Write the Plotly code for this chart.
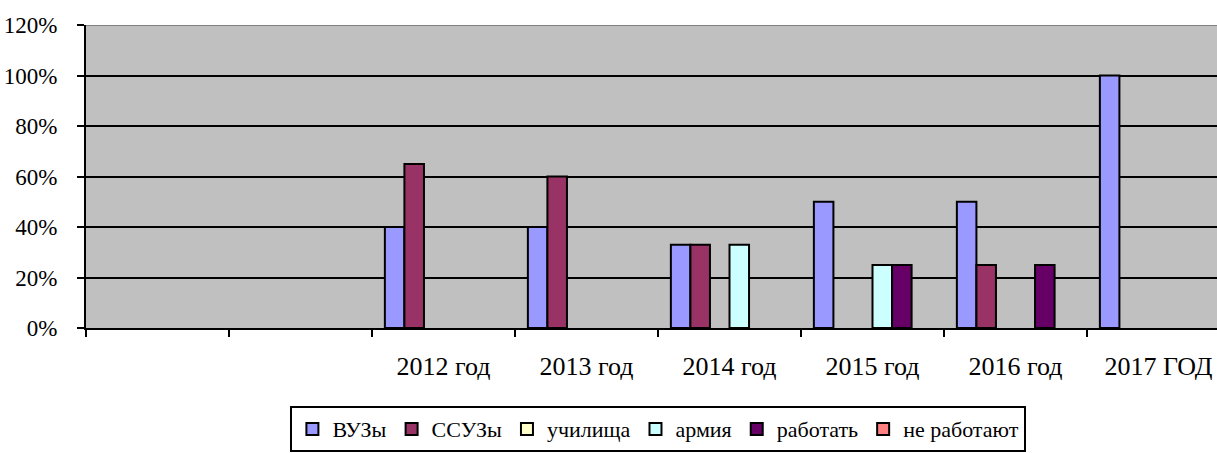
import plotly.graph_objects as go

categories = [" ", "  ", "2012 год", "2013 год", "2014 год", "2015 год", "2016 год", "2017 ГОД"]
vuzy = [None, None, 40, 40, 33, 50, 50, 100]
ssuzy = [None, None, 65, 60, 33, None, 25, None]
uchilischa = [None, None, None, None, None, None, None, None]
armiya = [None, None, None, None, 33, 25, None, None]
rabotat = [None, None, None, None, None, 25, 25, None]
ne_rabotayut = [None, None, None, None, None, None, None, None]
y_ticks = [0, 20, 40, 60, 80, 100, 120]
y_tick_labels = ["0%", "20%", "40%", "60%", "80%", "100%", "120%"]

series = [
    ("ВУЗы", vuzy, "#9999FF"),
    ("ССУЗы", ssuzy, "#993366"),
    ("училища", uchilischa, "#FFFFCC"),
    ("армия", armiya, "#CCFFFF"),
    ("работать", rabotat, "#660066"),
    ("не работают", ne_rabotayut, "#FF8080"),
]

FONT = "Liberation Serif, Times New Roman, serif"

fig = go.Figure()
for name, vals, color in series:
    fig.add_trace(go.Bar(
        name=name, x=categories, y=vals,
        marker=dict(color=color, line=dict(color="black", width=2)),
    ))

W, H = 1217, 453
ml, mt, mb = 86, 25, 125
plot_w = W - ml
cat_px = 143
xr = [-0.5, -0.5 + plot_w / cat_px]

fig.update_layout(
    width=W, height=H,
    margin=dict(l=ml, r=0, t=mt, b=mb, autoexpand=False),
    paper_bgcolor="white",
    plot_bgcolor="#C0C0C0",
    barmode="group",
    bargap=0.18,
    bargroupgap=0,
    font=dict(family=FONT, size=22, color="black"),
    showlegend=True,
    legend=dict(
        orientation="h", x=0.541, xref="container", xanchor="center",
        y=0.002, yref="container", yanchor="bottom",
        bordercolor="black", borderwidth=2, bgcolor="white",
        font=dict(family=FONT, size=22, color="black"),
        itemwidth=30, traceorder="normal",
    ),
    xaxis=dict(
        type="category", range=xr, tickson="boundaries",
        showline=True, linecolor="black", linewidth=2,
        ticks="outside", ticklen=7, tickwidth=2, tickcolor="black",
        showgrid=False, automargin=False, ticklabelstandoff=14,
        tickfont=dict(family=FONT, size=26, color="black"),
    ),
    yaxis=dict(
        range=[0, 120], tickmode="array", tickvals=y_ticks, ticktext=y_tick_labels,
        showline=True, linecolor="black", linewidth=2,
        ticks="outside", ticklen=7, tickwidth=2, tickcolor="black",
        showgrid=True, gridcolor="black", gridwidth=2,
        zeroline=False, automargin=False, ticklabelstandoff=15,
        tickfont=dict(family=FONT, size=23, color="black"),
    ),
    shapes=[dict(type="line", xref="paper", yref="y", x0=0, x1=1, y0=120, y1=120,
                 line=dict(color="#808080", width=2))],
)

fig.write_html(
    "out.html",
    config={"displayModeBar": False},
    post_script="document.body.style.margin='0px';document.body.style.overflow='hidden';",
)
